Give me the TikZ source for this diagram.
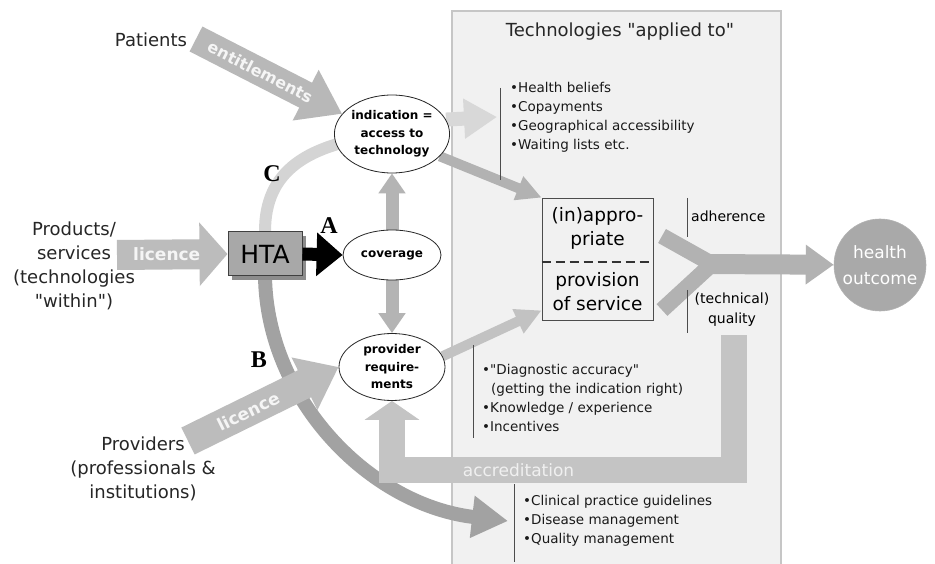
\documentclass[tikz,border=0pt]{standalone}
\usepackage{fontspec}
\setmainfont{DejaVu Sans}
\newfontfamily\quotefont{DejaVu Sans}
\newfontfamily\letterfont{Liberation Serif}
\usetikzlibrary{arrows.meta,shapes.geometric,calc}
\pgfdeclarelayer{panel}
\pgfdeclarelayer{flows}
\pgfsetlayers{panel,flows,main}
% straight double quote, taken from a family without TeX ligature mapping
\newcommand{\dq}{{\quotefont\symbol{34}}}

\definecolor{panelfill}{HTML}{F1F1F1}
\definecolor{panelline}{HTML}{C6C6C6}
\definecolor{entgray}{HTML}{B8B8B8}
\definecolor{licgray}{HTML}{BCBCBC}
\definecolor{bpathgray}{HTML}{A2A2A2}
\definecolor{cpathgray}{HTML}{D4D4D4}
\definecolor{covgray}{HTML}{B4B4B4}
\definecolor{palegray}{HTML}{D8D8D8}
\definecolor{flowgray}{HTML}{B2B2B2}
\definecolor{provgray}{HTML}{C2C2C2}
\definecolor{accgray}{HTML}{C4C4C4}
\definecolor{htafill}{HTML}{A8A8A8}
\definecolor{outcomefill}{HTML}{A9A9A9}

\begin{document}
\begin{tikzpicture}[x=1pt,y=-1pt,
  sidetext/.style={font=\fontsize{18}{24}\selectfont, align=center, text=black!85, inner sep=0pt},
  bulletlist/.style={font=\fontsize{13.5}{19}\selectfont, align=left, anchor=west, inner sep=0pt, text=black!90},
  oval/.style={ellipse, draw=black!85, line width=0.8pt, fill=white, font=\bfseries\fontsize{12}{17.5}\selectfont, align=center, inner sep=0pt},
  pathletter/.style={font=\letterfont\bfseries\fontsize{24}{24}\selectfont, inner sep=0pt},
  onflow/.style={text=white!96!black, font=\bfseries\fontsize{17}{17}\selectfont, inner sep=0pt},
  tick/.style={draw=black!70, line width=0.7pt},
]
\useasboundingbox (0,0) rectangle (935,564);

% white page and the "applied to" panel
\begin{pgfonlayer}{panel}
  \fill[white] (0,0) rectangle (935,564);
  \fill[panelfill] (452,11) rectangle (781,570);
  \draw[panelline, line width=1.2pt] (452,570) -- (452,11) -- (781,11) -- (781,570);
\end{pgfonlayer}

% side labels
\node[sidetext] (patients) at (151,40) {Patients};
\node[sidetext] (products) at (74,266) {Products/\\services\\(technologies\\\dq within\dq)};
\node[sidetext] (providers) at (143,469) {Providers\\(professionals \&\\institutions)};

% HTA box with its shadow
\fill[black!45] (232,236) rectangle (306,280);
\node[draw=black!75, fill=htafill, line width=1pt, minimum width=74pt, minimum height=44pt,
      inner sep=0pt, font=\fontsize{25}{25}\selectfont] (hta) at (265,254) {HTA};

% ellipses
\node[oval, minimum width=114pt, minimum height=78pt] (indic) at (392,134) {indication =\\access to\\technology};
\node[oval, minimum width=98pt, minimum height=50pt] (cover) at (392,255) {coverage};
\node[oval, minimum width=106pt, minimum height=67pt] (prov) at (392,367) {provider\\require-\\ments};

% path A: HTA decides coverage
\draw[line width=13pt, black, -{Triangle[length=26pt,width=42pt]}] (hta.east) -- (cover.west);

% path letters
\node[pathletter] (pa) at (329,226) {A};
\node[pathletter] (pb) at (259,360) {B};
\node[pathletter] (pc) at (272,174) {C};

% panel contents
\node[font=\fontsize{18}{20}\selectfont, text=black!85] (title) at (620,32) {Technologies \dq applied to\dq};
\node[bulletlist] (list1) at (510,117) {•Health beliefs\\•Copayments\\•Geographical accessibility\\•Waiting lists etc.};
\node[bulletlist] (list2) at (482,398) {•\dq Diagnostic accuracy\dq\\\hspace*{9pt}(getting the indication right)\\•Knowledge / experience\\•Incentives};
\node[bulletlist] (list3) at (523,521) {•Clinical practice guidelines\\•Disease management\\•Quality management};

\node[draw=black!70, line width=0.8pt, minimum width=111pt, minimum height=122pt, inner sep=0pt] (box) at (597.5,259) {};
\draw[black!80, line width=1.2pt, dash pattern=on 9pt off 5pt] ($(box.west)+(0,3)$) -- ($(box.east)+(0,3)$);
\node[font=\fontsize{18.5}{24}\selectfont, align=center, inner sep=0pt] (approp) at (597.5,228) {(in)appro-\\priate};
\node[font=\fontsize{18.5}{24}\selectfont, align=center, inner sep=0pt] (provis) at (597.5,292) {provision\\of service};

\node[font=\fontsize{14}{20}\selectfont, anchor=west, inner sep=0pt] (adher) at (691,216) {adherence};
\node[font=\fontsize{14}{20}\selectfont, align=center, inner sep=0pt] (techq) at (732,310) {(technical)\\quality};

\node[circle, fill=outcomefill, draw=black!30, line width=0.6pt, minimum size=92pt, inner sep=0pt,
      text=white, font=\fontsize{17}{26}\selectfont, align=center] (health) at (880,265) {health\\outcome};

% bracket ticks beside the lists
\draw[tick] (500,88) -- (500,180);
\draw[tick] (687,198) -- (687,237);
\draw[tick] (687,290) -- (687,333);
\draw[tick] (473,345) -- (473,438);
\draw[tick] (514,484) -- (514,562);

% flows
\begin{pgfonlayer}{flows}
  % C: HTA to indication
  \draw[line width=12pt, cpathgray] (hta.north) .. controls (265,172) and (305,143) .. (indic.center);
  % B: HTA to guidelines
  \draw[line width=14pt, bpathgray, -{Triangle[length=36pt,width=40pt]}]
    (hta.south) .. controls (267,400) and (370,505) .. ($(list3.west)+(-15,0)$);

  % entitlements
  \coordinate (entstart) at (196,39);
  \draw[line width=28pt, entgray, -{Triangle[length=41pt,width=54pt]}]
    (entstart) -- (indic.158) node[onflow, pos=0.44, sloped, font=\bfseries\fontsize{16}{16}\selectfont] {entitlements};

  % licence for products
  \coordinate (licAstart) at (117,255);
  \draw[line width=30pt, licgray, -{Triangle[length=28pt,width=62pt]}]
    (licAstart) -- (hta.west) node[onflow, pos=0.45] {licence};

  % licence for providers
  \coordinate (licBstart) at (188,441);
  \draw[line width=30pt, licgray, -{Triangle[length=38pt,width=56pt]}]
    (licBstart) -- (prov.west) node[onflow, pos=0.40, sloped] {licence};

  % coverage up and down
  \draw[line width=13pt, covgray, -{Triangle[length=20pt,width=26pt]}] (cover) -- (indic);
  \draw[line width=13pt, covgray, -{Triangle[length=20pt,width=26pt]}] (cover) -- (prov);

  % indication to the access list and to provision
  \draw[line width=14pt, palegray, -{Triangle[length=33pt,width=38pt]}] (indic.15) -- ($(list1.west)+(-13,0)$);
  \draw[line width=10pt, flowgray, -{Triangle[length=25pt,width=24pt]}] (indic.-25) -- (box.north west);
  % provider requirements to provision
  \draw[line width=10pt, provgray, -{Triangle[length=26pt,width=25pt]}] (prov.12) -- ($(box.south west)+(0,-10)$);

  % adherence and quality merging into health outcome
  \coordinate (armA) at (662,236);
  \coordinate (armB) at (662,310);
  \coordinate (fork) at (712,264);
  \draw[line width=16pt, flowgray] (armA) -- (fork) -- (armB);
  \draw[line width=20pt, flowgray, -{Triangle[length=28pt,width=38pt]}] ($(fork)+(-12,0)$) -- (health);

  % accreditation feedback
  \coordinate (accstart) at (734,335);
  \draw[line width=26pt, accgray, line join=miter, -{Triangle[length=19pt,width=54pt]}]
    (accstart) -- (734,470) -- (392,470)
    node[pos=0.63, text=white!94!black, font=\fontsize{17}{17}\selectfont, inner sep=0pt] {accreditation}
    -- (prov.south);
\end{pgfonlayer}
\end{tikzpicture}
\end{document}
